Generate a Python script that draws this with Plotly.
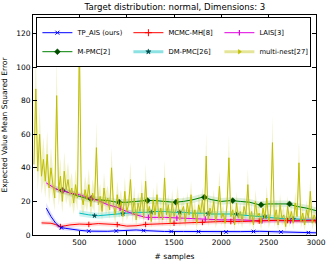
import plotly.graph_objects as go

# ---------------- data ----------------
# multi-nest[27] : noisy series, step 20 samples
mn_x = list(range(20, 3001, 20))
mn_y = [42, 87, 38, 60, 35, 45, 32, 48, 28, 40,
        30, 22, 83, 26, 35, 20, 38, 27, 33, 24,
        28, 19, 30, 22, 115, 24, 18, 27, 21, 30,
        17, 25, 20, 52, 18, 23, 14, 28, 19, 22,
        15, 40, 18, 12, 24, 16, 20, 11, 26, 14,
        18, 33, 12, 22, 9, 19, 14, 25, 10, 32,
        13, 17, 8, 21, 12, 24, 10, 16, 9, 34,
        12, 18, 7, 20, 11, 15, 22, 9, 14, 17,
        8, 19, 12, 24, 10, 15, 7, 18, 13, 21,
        11, 47, 9, 16, 12, 20, 8, 14, 29, 10,
        13, 7, 18, 46, 11, 15, 6, 19, 10, 14,
        8, 17, 12, 30, 9, 14, 6, 20, 11, 13,
        7, 16, 10, 22, 8, 13, 55, 9, 15, 6,
        18, 10, 12, 5, 17, 9, 14, 7, 19, 11,
        43, 8, 13, 6, 15, 10, 26, 7, 12, 9]

tp_x = [150, 200, 250, 300, 350, 400, 500, 600, 700, 800, 900, 1000, 1100, 1200,
        1400, 1600, 1800, 2000, 2200, 2400, 2600, 2800, 3000]
tp_y = [16, 11, 7, 4.5, 4, 3.5, 2.8, 2.3, 2.2, 2.2, 2.5, 2.8, 3.0, 2.6,
        2.1, 2.1, 2.0, 1.8, 2.0, 2.2, 1.8, 1.5, 1.3]
tp_s = [3, 2.5, 2, 1.5, 1.3, 1.2, 1, 1, 1, 1, 1, 1, 1, 1,
        1, 1, 1, 1, 1, 1, 1, 1, 1]
tp_mx = [310, 600, 890, 1180, 1470, 1760, 2050, 2340, 2630, 2920]
tp_my = [4.3, 2.3, 2.4, 2.6, 2.1, 2.0, 1.8, 2.1, 1.8, 1.4]

mh_x = [100, 150, 200, 250, 300, 350, 400, 500, 600, 700, 800, 900, 1000, 1100, 1200,
        1400, 1600, 1800, 2000, 2200, 2400, 2600, 2800, 3000]
mh_y = [7.2, 7.3, 7.0, 6.2, 5.0, 5.5, 6.0, 6.5, 6.3, 6.8, 6.5, 6.2, 5.3, 5.5, 6.3,
        6.8, 7.2, 7.5, 8.0, 8.0, 8.3, 8.8, 8.4, 8.5]
mh_mx = [300, 600, 900, 1200, 1500, 1800, 2100, 2400, 2700, 3000]
mh_my = [5.0, 6.3, 6.2, 6.3, 7.0, 7.5, 8.0, 8.3, 8.6, 8.5]

la_x = [150, 200, 250, 300, 350, 400, 500, 600, 700, 800, 900, 1000, 1100, 1200,
        1300, 1400, 1600, 1800, 2000, 2200, 2400, 2600, 2800, 3000]
la_y = [31, 29, 27.5, 26.5, 26, 25, 24, 22, 20.5, 18, 16.5, 14, 12, 10.5,
        10.5, 10.5, 10, 9.5, 9, 9, 8.5, 8.5, 8.5, 9]
la_mx = [330, 630, 930, 1230, 1530, 1830, 2130, 2430, 2730]
la_my = [26.5, 22, 16, 10.5, 10, 9.5, 9, 8.5, 8.5]

mp_x = [250, 300, 350, 400, 500, 600, 700, 800, 900, 1000, 1100, 1200, 1300, 1400,
        1500, 1600, 1700, 1800, 1900, 2000, 2100, 2200, 2300, 2400, 2500, 2600,
        2700, 2800, 2900, 3000]
mp_y = [27.5, 26.5, 26, 25, 23, 21.5, 21, 20.5, 19.5, 19.5, 20, 20.5, 20.5, 20,
        19.5, 20, 21, 22.5, 21, 20, 20.5, 20, 19.5, 18, 18.5, 18.5,
        18.5, 17, 16, 14.5]
mp_mx = [320, 620, 920, 1220, 1520, 1820, 2120, 2420, 2720]
mp_my = [26.5, 21.5, 19.5, 20.5, 19.5, 22.5, 20.5, 18, 18.5]

dm_x = [500, 550, 600, 700, 800, 900, 1000, 1100, 1200, 1300, 1400, 1500, 1600,
        1700, 1800, 1900, 2000, 2100, 2200, 2300, 2400, 2500, 2600, 2700, 2800,
        2900, 3000]
dm_y = [13, 12.5, 12, 11.5, 12, 12.5, 13, 13.5, 13.5, 14, 14, 13.5, 13.5,
        13, 13, 12.5, 12.5, 12.5, 12, 11.5, 11, 10.5, 10, 9.5, 9.5,
        9, 9]
dm_mx = [660, 960, 1260, 1560, 1860, 2160, 2460, 2760]
dm_my = [11.5, 12.8, 13.5, 13.5, 12.8, 12.3, 11, 9.5]

x_ticks = [500, 1000, 1500, 2000, 2500, 3000]
y_ticks = [0, 20, 40, 60, 80, 100, 120]

names = ["TP_AIS (ours)", "MCMC-MH[8]", "LAIS[3]", "M-PMC[2]", "DM-PMC[26]", "multi-nest[27]"]

# ---------------- figure ----------------
fig = go.Figure()


def band(x, y, s, color):
    if not isinstance(s, list):
        s = [s] * len(x)
    up = [a + b for a, b in zip(y, s)]
    lo = [max(a - b, 0) for a, b in zip(y, s)]
    fig.add_trace(go.Scatter(x=x + x[::-1], y=up + lo[::-1], fill="toself",
                             fillcolor=color, line=dict(width=0), mode="lines",
                             showlegend=False, hoverinfo="skip"))


band(mp_x, mp_y, 2.0, "rgba(0,128,0,0.13)")
band(dm_x, dm_y, 1.8, "rgba(0,191,191,0.20)")
band(la_x, la_y, 1.5, "rgba(224,0,224,0.15)")
band(mh_x, mh_y, 1.4, "rgba(255,0,0,0.13)")
band(tp_x, tp_y, tp_s, "rgba(0,0,255,0.13)")
mn_s = [0.25 * v + 2 for v in mn_y]
band(mn_x, mn_y, mn_s, "rgba(191,191,0,0.22)")

col = dict(tp="#0000ff", mh="#ff0000", la="#e000e0", mp="#008000", dm="#00bfbf", mn="#bfbf00")


def line(x, y, c, w=1.0):
    fig.add_trace(go.Scatter(x=x, y=y, mode="lines", line=dict(color=c, width=w),
                             showlegend=False, hoverinfo="skip"))


def marks(x, y, sym, c, size, lc=None, lw=1):
    fig.add_trace(go.Scatter(x=x, y=y, mode="markers",
                             marker=dict(symbol=sym, color=c, size=size,
                                         line=dict(color=lc or c, width=lw)),
                             showlegend=False, hoverinfo="skip"))


line(mp_x, mp_y, col["mp"])
marks(mp_mx, mp_my, "diamond", "#004d00", 4.5, "#004d00", 0.5)
line(dm_x, dm_y, col["dm"])
marks(dm_mx, dm_my, "star", "#004d4d", 3.5, "#004d4d", 0.5)
line(la_x, la_y, col["la"])
marks(la_mx, la_my, "line-ns", col["la"], 4, col["la"], 1.2)
line(mh_x, mh_y, col["mh"])
marks(mh_mx, mh_my, "cross-thin", col["mh"], 4, col["mh"], 1)
line(mn_x, mn_y, col["mn"], 1.0)
line(tp_x, tp_y, col["tp"])
marks(tp_mx, tp_my, "x-thin", col["tp"], 3.5, col["tp"], 1)

# legend entries
leg = [
    (names[0], dict(color=col["tp"], width=1), dict(symbol="x-thin", size=4, color=col["tp"], line=dict(color=col["tp"], width=1))),
    (names[1], dict(color=col["mh"], width=1), dict(symbol="cross-thin", size=5, color=col["mh"], line=dict(color=col["mh"], width=1))),
    (names[2], dict(color=col["la"], width=1), dict(symbol="line-ns", size=4, color=col["la"], line=dict(color=col["la"], width=1.2))),
    (names[3], dict(color=col["mp"], width=1), dict(symbol="diamond", size=4.5, color="#004d00", line=dict(color="#004d00", width=0.5))),
    (names[4], dict(color="rgba(0,191,191,0.45)", width=3), dict(symbol="star", size=4, color="#004d4d", line=dict(color="#004d4d", width=0.5))),
    (names[5], dict(color="rgba(191,191,0,0.40)", width=3), dict(symbol="triangle-right", size=4, color=col["mn"], line=dict(color=col["mn"], width=0.5))),
]
for nm, ln, mk in leg:
    fig.add_trace(go.Scatter(x=[None], y=[None], mode="lines+markers", name=nm,
                             line=ln, marker=mk))

font = "DejaVu Sans, Liberation Sans, sans-serif"
fig.update_layout(
    width=332, height=261,
    margin=dict(l=33, r=16, t=15, b=26, autoexpand=False),
    paper_bgcolor="white", plot_bgcolor="white",
    font=dict(family=font, size=7.5, color="#000000"),
    title=dict(text="Target distribution: normal, Dimensions: 3", x=0.527, xanchor="center",
               y=0.972, yanchor="middle", font=dict(size=8.6)),
    showlegend=True,
    legend=dict(orientation="h", x=0.012, y=0.99, xanchor="left", yanchor="top",
                bgcolor="white", bordercolor="black", borderwidth=1,
                font=dict(size=6.8), entrywidth=46, itemwidth=30,
                tracegroupgap=0),
)
fig.update_xaxes(range=[10, 3000], tickvals=x_ticks, ticks="inside", ticklen=4,
                 tickcolor="black", showline=True, linecolor="black", linewidth=1,
                 mirror="ticks", showgrid=False, zeroline=False, automargin=False,
                 title=dict(text="# samples", font=dict(size=7.5)),
                 tickfont=dict(size=7.5))
fig.update_yaxes(range=[0, 131], tickvals=y_ticks, ticks="inside", ticklen=4,
                 tickcolor="black", showline=True, linecolor="black", linewidth=1,
                 mirror="ticks", showgrid=False, zeroline=False, automargin=False,
                 title=dict(text="Expected Value Mean Squared Error", font=dict(size=7.5)),
                 tickfont=dict(size=7.5))

fig.write_html("out.html", config={"displayModeBar": False},
               post_script="document.body.style.margin='0';")
